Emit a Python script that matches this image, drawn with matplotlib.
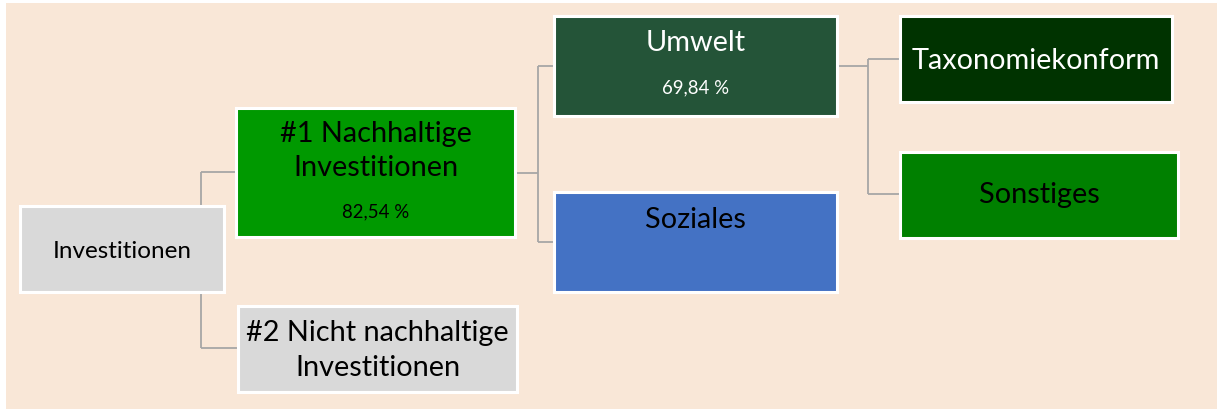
import matplotlib
matplotlib.use("Agg")
import matplotlib.pyplot as plt
from matplotlib.patches import Rectangle

plt.rcParams['font.family'] = ['Lato', 'DejaVu Sans']

# ---- data ----
node_titles = ["Investitionen", "#1 Nachhaltige\nInvestitionen", "#2 Nicht nachhaltige\nInvestitionen",
               "Umwelt", "Soziales", "Taxonomiekonform", "Sonstiges"]
node_values = [None, "82,54 %", None, "69,84 %", None, None, None]
node_parents = [None, 0, 0, 1, 1, 3, 3]

# ---- layout / style (pixel coordinates) ----
boxes = [(20, 207, 224, 293), (236, 109, 515, 238), (238, 307, 517, 393),
         (554, 17, 837, 117), (554, 193, 837, 293), (900, 17, 1172, 103), (900, 153, 1178, 239)]
fills = ["#d9d9d9", "#009900", "#d9d9d9", "#245438", "#4472c4", "#003300", "#008000"]
tcolors = ["black", "black", "black", "white", "black", "white", "black"]
title_base = [[258], [142, 176], [341, 376], [51], [228], [69], [203]]
title_fs = [17.5, 20.8, 20.8, 20.8, 20.8, 20.8, 20.8]
value_base = [None, 217, None, 93, None, None, None]
branch_x = {0: 201, 1: 538, 3: 868}
join_y = {0: (173, 349), 1: (67, 243), 3: (60, 195)}

W, H = 1222, 414
fig = plt.figure(figsize=(W / 100, H / 100), dpi=100)
ax = fig.add_axes([0, 0, 1, 1])
ax.set_xlim(0, W)
ax.set_ylim(H, 0)
ax.axis('off')

ax.add_patch(Rectangle((6, 4), 1211, 406, facecolor="#f9e7d7", edgecolor='none', zorder=0))

line_kw = dict(color="#a6a6a6", lw=1.3, zorder=1, solid_capstyle='butt')
for p, bx in branch_x.items():
    x0, y0, x1, y1 = boxes[p]
    if p != 0:
        py = (y0 + y1) / 2
        ax.plot([x1, bx], [py, py], **line_kw)
    ya, yb = join_y[p]
    ax.plot([bx, bx], [ya, yb], **line_kw)
    children = [i for i, q in enumerate(node_parents) if q == p]
    for c, yy in zip(children, (ya, yb)):
        ax.plot([bx, boxes[c][0]], [yy, yy], **line_kw)

for i, (x0, y0, x1, y1) in enumerate(boxes):
    ax.add_patch(Rectangle((x0, y0), x1 - x0, y1 - y0, facecolor=fills[i],
                           edgecolor="white", lw=2.2, zorder=2))
    cx = (x0 + x1) / 2
    for line, yb in zip(node_titles[i].split("\n"), title_base[i]):
        ax.text(cx, yb, line, ha='center', va='baseline', color=tcolors[i],
                fontsize=title_fs[i], zorder=3)
    if node_values[i]:
        ax.text(cx, value_base[i], node_values[i], ha='center', va='baseline', color=tcolors[i],
                fontsize=13.4, zorder=3)

fig.savefig("out.png", dpi=100, facecolor="white")
